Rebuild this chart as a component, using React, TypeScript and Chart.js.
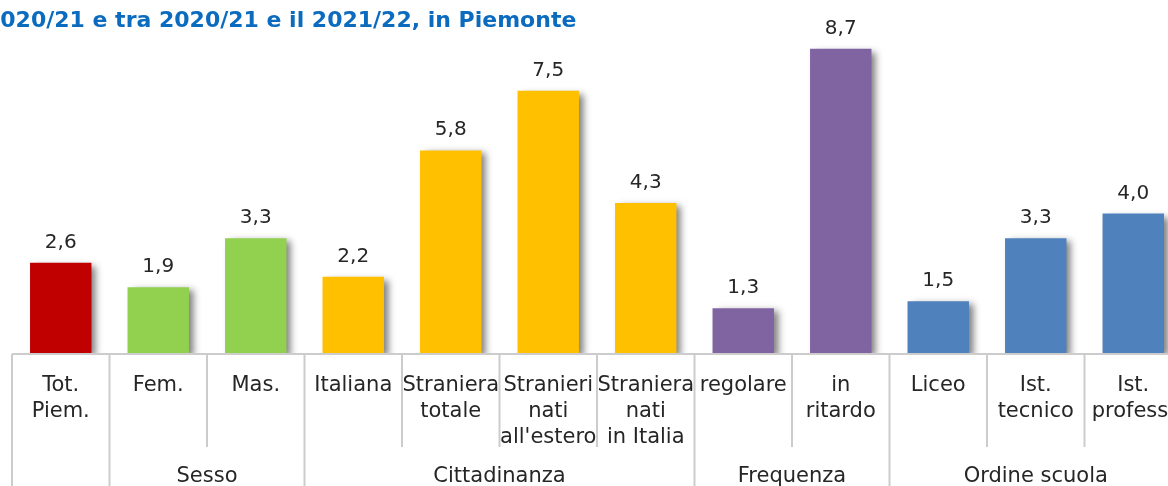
import React, { useEffect, useRef } from "react";
import { Chart, registerables } from "chart.js";

Chart.register(...registerables);

const titleText = "2020/21 e tra 2020/21 e il 2021/22, in Piemonte";
const categories: string[][] = [
  ["Tot.", "Piem."],
  ["Fem."],
  ["Mas."],
  ["Italiana"],
  ["Straniera", "totale"],
  ["Stranieri", "nati", "all'estero"],
  ["Straniera", "nati", "in Italia"],
  ["regolare"],
  ["in", "ritardo"],
  ["Liceo"],
  ["Ist.", "tecnico"],
  ["Ist.", "profess."],
];
const values = [2.6, 1.9, 3.3, 2.2, 5.8, 7.5, 4.3, 1.3, 8.7, 1.5, 3.3, 4.0];
const barColors = [
  "#C00000",
  "#92D050", "#92D050",
  "#FFC000", "#FFC000", "#FFC000", "#FFC000",
  "#8064A2", "#8064A2",
  "#4F81BD", "#4F81BD", "#4F81BD",
];
const groupLabels = ["", "Sesso", "Cittadinanza", "Frequenza", "Ordine scuola"];
const groupStarts = [0, 1, 3, 7, 9];
const groupEnds = [0, 2, 6, 8, 11];

const FONT = "'DejaVu Sans', sans-serif";
const TEXT = "#262626";
const LINE = "#cccccc";

const shadowPlugin = {
  id: "barShadow",
  beforeDatasetsDraw(chart: any) {
    const ctx = chart.ctx;
    ctx.save();
    ctx.shadowColor = "rgba(0,0,0,0.5)";
    ctx.shadowBlur = 7;
    ctx.shadowOffsetX = 5;
    ctx.shadowOffsetY = 3;
  },
  afterDatasetsDraw(chart: any) {
    const ctx = chart.ctx;
    ctx.restore();
    const meta = chart.getDatasetMeta(0);
    ctx.save();
    ctx.fillStyle = TEXT;
    ctx.font = `20px ${FONT}`;
    ctx.textAlign = "center";
    ctx.textBaseline = "alphabetic";
    meta.data.forEach((bar: any, i: number) => {
      const txt = values[i].toFixed(1).replace(".", ",");
      ctx.fillText(txt, bar.x, bar.y - 15);
    });
    ctx.restore();
  },
};

const axisPlugin = {
  id: "multiAxis",
  afterDraw(chart: any) {
    const ctx = chart.ctx;
    const x = chart.scales.x;
    const area = chart.chartArea;
    const y0 = area.bottom;
    const yShort = 447;
    const yLong = chart.height;
    ctx.save();
    ctx.strokeStyle = LINE;
    ctx.lineWidth = 2;
    ctx.beginPath();
    ctx.moveTo(x.getPixelForValue(-0.5), y0);
    ctx.lineTo(x.getPixelForValue(categories.length - 0.5), y0);
    ctx.stroke();
    const longB = new Set<number>();
    groupStarts.forEach((s) => longB.add(s));
    longB.add(categories.length);
    for (let b = 0; b <= categories.length; b++) {
      const px = x.getPixelForValue(b - 0.5);
      ctx.beginPath();
      ctx.moveTo(px, y0);
      ctx.lineTo(px, longB.has(b) ? yLong : yShort);
      ctx.stroke();
    }
    ctx.fillStyle = TEXT;
    ctx.font = `21px ${FONT}`;
    ctx.textAlign = "center";
    ctx.textBaseline = "middle";
    groupLabels.forEach((g, i) => {
      if (!g) return;
      const a = x.getPixelForValue(groupStarts[i] - 0.5);
      const b = x.getPixelForValue(groupEnds[i] + 0.5);
      ctx.fillText(g, (a + b) / 2, 477);
    });
    ctx.restore();
  },
};

export default function App() {
  const ref = useRef<HTMLCanvasElement>(null);
  useEffect(() => {
    if (!ref.current) return;
    const chart = new Chart(ref.current, {
      type: "bar",
      data: {
        labels: categories,
        datasets: [
          {
            data: values,
            backgroundColor: barColors,
            borderWidth: 0,
            categoryPercentage: 1,
            barPercentage: 0.63,
          },
        ],
      },
      options: {
        responsive: false,
        animation: false,
        devicePixelRatio: 1,
        layout: { padding: { left: 12, right: 8, top: 3, bottom: 0 } },
        plugins: {
          legend: { display: false },
          title: { display: false },
          tooltip: { enabled: false },
        },
        scales: {
          x: {
            grid: { display: false },
            border: { display: false },
            ticks: {
              color: TEXT,
              font: { family: FONT, size: 21, lineHeight: 1.25 },
              maxRotation: 0,
              minRotation: 0,
              autoSkip: false,
              padding: 10,
            },
            afterFit: (s: any) => {
              s.height = 132;
            },
          },
          y: { display: false, min: 0, max: 10 },
        },
      },
      plugins: [shadowPlugin, axisPlugin],
    } as any);
    return () => chart.destroy();
  }, []);

  return (
    <div
      style={{
        position: "fixed",
        left: 0,
        top: 0,
        width: 1168,
        height: 486,
        overflow: "hidden",
        background: "#fff",
      }}
    >
      <canvas ref={ref} width={1190} height={486} style={{ position: "absolute", left: 0, top: 0 }} />
      <div
        style={{
          position: "absolute",
          left: -15,
          top: 7,
          whiteSpace: "nowrap",
          fontFamily: FONT,
          fontWeight: "bold",
          fontSize: 22,
          color: "#0B6BBE",
          lineHeight: "26px",
        }}
      >
        {titleText}
      </div>
    </div>
  );
}
